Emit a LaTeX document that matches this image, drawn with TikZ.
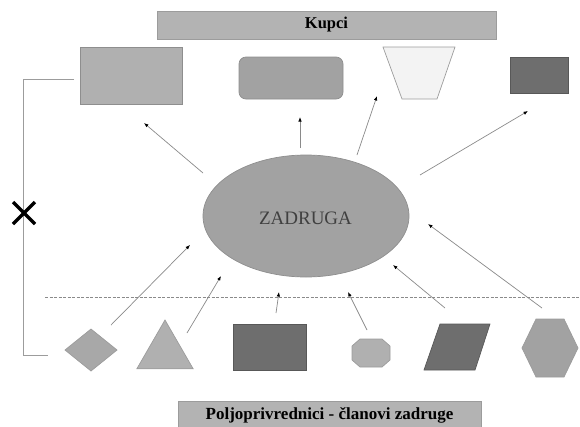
\documentclass[tikz,border=0pt]{standalone}
\usepackage{fontspec}
\setmainfont{Liberation Serif}
\usetikzlibrary{arrows.meta,shapes.geometric}
\definecolor{barfill}{HTML}{B3B3B3}
\definecolor{barline}{HTML}{9C9C9C}
\definecolor{lightfill}{HTML}{B0B0B0}
\definecolor{midfill}{HTML}{A2A2A2}
\definecolor{darkfill}{HTML}{6E6E6E}
\definecolor{shapeline}{HTML}{8E8E8E}
\definecolor{conn}{HTML}{8A8A8A}
\definecolor{trapfill}{HTML}{F3F3F3}
\tikzset{
  bar/.style={draw=barline, fill=barfill, inner sep=0pt, line width=0.8pt},
  shp/.style={draw=shapeline, line width=0.7pt, inner sep=0pt, outer sep=0pt},
  conarrow/.style={draw=conn, line width=0.7pt, -{Latex[length=4.5pt,width=3.5pt,color=black]}},
  bracket/.style={draw=barline, line width=1pt},
  xmark/.style={draw=black, line width=3.2pt},
  sepline/.style={draw=conn, line width=0.8pt, dash pattern=on 3pt off 1.5pt}
}
\begin{document}
\begin{tikzpicture}[x=1pt,y=-1pt]
\useasboundingbox (0,0) rectangle (580,426);
% top bar
\node[bar, minimum width=339pt, minimum height=28pt] (kupci) at (326.5,25)
  {\fontsize{16.5}{18}\selectfont\bfseries Kupci};
% top shapes
\node[shp, fill=lightfill, minimum width=102pt, minimum height=57pt] (r1) at (131,75.5) {};
\node[shp, fill=midfill, rounded corners=7pt, minimum width=104pt, minimum height=42pt] (rr) at (291,78) {};
\draw[shp, fill=trapfill, draw=barline] (383,47) -- (455,47) -- (437,99) -- (402,99) -- cycle;
\coordinate (trap) at (419,73);
\node[shp, fill=darkfill, draw=darkfill!80!black, minimum width=58pt, minimum height=36pt] (dr) at (539,75) {};
% ellipse
\node[shp, ellipse, fill=midfill, draw=shapeline, minimum width=206pt, minimum height=122pt] (zad) at (306,216) {};
\node[text=black!75] (zadtxt) at (305.5,218) {\fontsize{19}{21}\selectfont ZADRUGA};
% separator
\coordinate (sepL) at (45,297);
\coordinate (sepR) at (580,297);
\draw[sepline] (sepL) -- (sepR);
% bottom shapes
\node[shp, diamond, fill=lightfill!110, draw=barline, minimum width=52pt, minimum height=42pt] (dia) at (91,350) {};
\node[shp, regular polygon, regular polygon sides=3, fill=lightfill, draw=barline, minimum size=65pt] (tri) at (165,352.5) {};
\node[shp, fill=darkfill, draw=darkfill!80!black, minimum width=73pt, minimum height=46pt] (br) at (269.5,347) {};
\draw[shp, fill=lightfill, draw=barline] (360,339) -- (382,339) -- (390,346) -- (390,360) -- (382,367) -- (360,367) -- (352,360) -- (352,346) -- cycle;
\coordinate (oct) at (371,353);
\draw[shp, fill=darkfill, draw=darkfill!80!black] (440,324) -- (490,324) -- (475,370) -- (424,370) -- cycle;
\coordinate (par) at (457,347);
\draw[shp, fill=midfill, draw=barline] (522,348) -- (536,319) -- (564,319) -- (578,348) -- (564,377) -- (536,377) -- cycle;
\coordinate (hex) at (550,348);
% bottom bar
\node[bar, minimum width=303pt, minimum height=27pt, anchor=north] (clan) at (329.5,401) {};
\node (clantxt) at (329.5,415.5) {\fontsize{17}{18}\selectfont\bfseries Poljoprivrednici - članovi zadruge};
% bracket with X
\coordinate (bA) at (74,79);
\coordinate (bB) at (23,79);
\coordinate (bC) at (23,355);
\coordinate (bD) at (48,355);
\draw[bracket] (bA) -- (bB) -- (bC) -- (bD);
\coordinate (x1) at (13,202);
\coordinate (x2) at (35,224);
\coordinate (x3) at (13,224);
\coordinate (x4) at (35,202);
\draw[xmark] (x1) -- (x2);
\draw[xmark] (x3) -- (x4);
% outgoing arrows (from ellipse to buyers)
\coordinate (o1s) at (203,173); \coordinate (o1e) at (144,123);
\coordinate (o2s) at (300,148); \coordinate (o2e) at (300,117);
\coordinate (o3s) at (357,155); \coordinate (o3e) at (377,96);
\coordinate (o4s) at (420,175); \coordinate (o4e) at (528,111);
\draw[conarrow] (o1s) -- (o1e);
\draw[conarrow] (o2s) -- (o2e);
\draw[conarrow] (o3s) -- (o3e);
\draw[conarrow] (o4s) -- (o4e);
% incoming arrows (from members to ellipse)
\coordinate (i1s) at (111,325); \coordinate (i1e) at (190,245);
\coordinate (i2s) at (187,333); \coordinate (i2e) at (221,276);
\coordinate (i3s) at (276,313); \coordinate (i3e) at (279,292);
\coordinate (i4s) at (367,330); \coordinate (i4e) at (348,292);
\coordinate (i5s) at (445,308); \coordinate (i5e) at (393,265);
\coordinate (i6s) at (542,308); \coordinate (i6e) at (428,224);
\draw[conarrow] (i1s) -- (i1e);
\draw[conarrow] (i2s) -- (i2e);
\draw[conarrow] (i3s) -- (i3e);
\draw[conarrow] (i4s) -- (i4e);
\draw[conarrow] (i5s) -- (i5e);
\draw[conarrow] (i6s) -- (i6e);
\end{tikzpicture}
\end{document}
